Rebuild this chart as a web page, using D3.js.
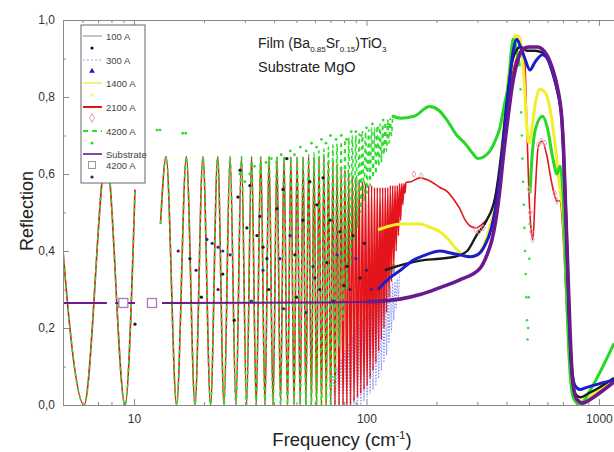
<!DOCTYPE html>
<html>
<head>
<meta charset="utf-8">
<script src="https://cdn.jsdelivr.net/npm/d3@7"></script>
<style>
  body { margin: 0; background: #fff; }
  svg { display: block; font-family: "Liberation Sans", Arial, sans-serif; }
</style>
</head>
<body>
<svg id="chart" width="614" height="452"></svg>
<script>
// ---- data (frequency in cm-1, reflection) ----
// substrate fringes seen in the 2100 A fit line (null = gap in the data)
const redFringe = [
  [4.6,0.645],[6.1,0],[7.6,0.645],[9.15,0],[10.1,0.56], null,
  [13.0,0.47],[13.75,0.645],[15.25,0],[16.8,0.645],[18.3,0],[19.8,0.645],[21.35,0],[22.9,0.645],[24.4,0],
  [25.9,0.645],[27.45,0],[29.0,0.645],[30.5,0],[32.05,0.645],[33.55,0],[35.1,0.645],[36.6,0],[38.1,0.645],
  [39.65,0],[41.2,0.645],[42.7,0],[44.2,0.645],[45.75,0],[47.3,0.645],[48.8,0],[50.3,0.645],[51.85,0],
  [53.4,0.645],[54.9,0],[56.4,0.645],[57.95,0],[59.5,0.645],[61.0,0],[62.5,0.64],[64.05,0],[65.6,0.64],
  [67.1,0],[68.6,0.635],[70.15,0],[71.7,0.63],[73.2,0],[74.7,0.625],[76.25,0],[77.8,0.62],[79.3,0],
  [80.8,0.61],[82.35,0],[83.9,0.6],[85.4,0],[86.9,0.595],[88.45,0.01],[90.0,0.59],[91.5,0.02],[93.0,0.585],
  [94.55,0.03],[96.1,0.58],[97.6,0.04],[99.1,0.575],[100.65,0.05],[102.2,0.57],[103.7,0.07],[105.2,0.57],
  [106.75,0.09],[108.3,0.565],[109.8,0.11],[111.3,0.565],[112.85,0.14],[114.4,0.565],[115.9,0.17],
  [117.4,0.565],[118.95,0.2],[120.5,0.565],[122.0,0.24],[123.5,0.565],[125.05,0.28],[126.6,0.57],
  [128.1,0.32],[129.6,0.57],[131.15,0.36],[132.7,0.57],[134.2,0.4],[135.7,0.57],[137.25,0.44],[138.8,0.575],
  [140.3,0.48],[141.8,0.575],[143.35,0.52],[144.9,0.575],[146.4,0.55],[147.9,0.578]
];
const red2100 = [
  [155,0.58],[170,0.59],[190,0.58],[207,0.565],[222,0.555],[240,0.53],[252,0.51],[266,0.48],[279,0.465],
  [295,0.46],[315,0.47],[347,0.51],[367,0.57],[387,0.68],[409,0.8],[428,0.87],[450,0.91],[471,0.92],
  [481,0.88],[490,0.72],[500,0.55],[510,0.46],[520,0.43],[532,0.55],[548,0.67],[570,0.685],[596,0.65],
  [625,0.58],[660,0.53],[680,0.53],[700,0.45],[720,0.3],[740,0.15],[765,0.05],[800,0.015],[850,0.01],
  [920,0.02],[1000,0.035],[1161,0.06]
];
const pink2100 = [
  [160,0.6],[172,0.595],[295,0.455],[305,0.45],[318,0.46],[500,0.56],[506,0.5],[512,0.45],[518,0.43],
  [548,0.675],[565,0.685],[585,0.68],[645,0.55],[660,0.53]
];
// 4200 A fit follows the red fringes below 55 cm-1, then these
const greenFringeHigh = [
  [56.4,0.65],[57.95,0],[59.5,0.655],[61.0,0],[62.5,0.66],[64.05,0],[65.6,0.665],[67.1,0],[68.6,0.67],
  [70.15,0],[71.7,0.675],[73.2,0.05],[74.7,0.68],[76.25,0.15],[77.8,0.685],[79.3,0.22],[80.8,0.69],
  [82.35,0.3],[83.9,0.695],[85.4,0.36],[86.9,0.7],[88.45,0.42],[90.0,0.7],[91.5,0.46],[93.0,0.705],
  [94.55,0.5],[96.1,0.71],[97.6,0.53],[99.1,0.71],[100.65,0.55],[102.2,0.715],[103.7,0.57],[105.2,0.72],
  [106.75,0.59],[108.3,0.72],[109.8,0.6],[111.3,0.725],[112.85,0.62],[114.4,0.73],[115.9,0.63],
  [117.4,0.73],[118.95,0.65],[120.5,0.735],[122.0,0.66],[123.5,0.74],[125.05,0.68],[126.6,0.745],
  [128.1,0.7],[129.6,0.75]
];
const green4200 = [
  [129.6,0.75],[140,0.745],[160,0.75],[187,0.775],[205,0.765],[222,0.74],[245,0.7],[265,0.68],[285,0.655],
  [302,0.64],[320,0.645],[340,0.66],[360,0.69],[375,0.72],[392,0.78],[409,0.84],[420,0.92],[428,0.95],
  [440,0.93],[455,0.88], null,
  [505,0.55],[515,0.64],[535,0.72],[572,0.75],[600,0.72],[634,0.64],[660,0.6],[680,0.62],[700,0.55],
  [720,0.35],[745,0.12],[775,0.02],[830,0.0],[900,0.03],[1000,0.08],[1161,0.16]
];
const greenDip = [
  [460,0.82],[463,0.76],[466,0.7],[469,0.64],[472,0.58],[475,0.52],[478,0.46],[481,0.4],[484,0.34],
  [487,0.28],[490,0.22],[493,0.17],[496,0.2],[499,0.28],[502,0.38],[504,0.47]
];
const greenDots = [
  [12.56,0.714],[12.94,0.714],[16.2,0.706],[16.7,0.706],[28.5,0.6],[30,0.58],[31.5,0.6],[33,0.62],[35,0.61],
  [37,0.63],[39,0.64],[41,0.63],[43,0.65],[45,0.64],[47,0.66],[49,0.65],[52,0.67],[55,0.66],[58,0.68],
  [61,0.67],[64,0.69],[67,0.68],[70,0.7],[74,0.69],[78,0.7],[82,0.69],[86,0.71],[90,0.71],[95,0.7],
  [100,0.72],[106,0.73],[112,0.72],[118,0.74],[124,0.73],[130,0.75]
];
const yellowFringe = [
  [59.5,0.14],[61.0,0],[62.5,0.16],[64.05,0],[65.6,0.18],[67.1,0],[68.6,0.2],[70.15,0],[71.7,0.23],[73.2,0],
  [74.7,0.26],[76.25,0],[77.8,0.29],[79.3,0],[80.8,0.32],[82.35,0],[83.9,0.34],[85.4,0],[86.9,0.36],
  [88.45,0.02],[90.0,0.38],[91.5,0.04],[93.0,0.4],[94.55,0.06],[96.1,0.41],[97.6,0.08],[99.1,0.42],
  [100.65,0.1],[102.2,0.43],[103.7,0.13],[105.2,0.44],[106.75,0.16],[108.3,0.445],[109.8,0.19],[111.3,0.45],
  [112.85,0.22],[114.4,0.455],[115.9,0.25],[117.4,0.46],[118.95,0.28],[120.5,0.46],[122.0,0.31],
  [123.5,0.465],[125.05,0.34],[126.6,0.465],[128.1,0.37],[129.6,0.465],[131.15,0.4],[132.7,0.47],
  [134.2,0.43],[135.7,0.47]
];
const yellow1400 = [
  [112,0.455],[126,0.465],[140,0.47],[170,0.47],[190,0.46],[207,0.45],[225,0.43],[240,0.41],[260,0.39],
  [286,0.385],[310,0.4],[335,0.45],[360,0.53],[387,0.7],[414,0.88],[435,0.96],[457,0.955],[475,0.86],
  [490,0.72],[500,0.68],[515,0.72],[535,0.79],[557,0.82],[590,0.81],[620,0.76],[650,0.67],[680,0.56],
  [700,0.5],[720,0.35],[745,0.13],[775,0.03],[830,0.01],[1000,0.04],[1161,0.07]
];
const blueFringe = [
  [70.15,0],[71.7,0.08],[73.2,0],[74.7,0.1],[76.25,0],[77.8,0.12],[79.3,0],[80.8,0.14],[82.35,0],[83.9,0.16],
  [85.4,0],[86.9,0.18],[88.45,0],[90.0,0.2],[91.5,0],[93.0,0.21],[94.55,0],[96.1,0.22],[97.6,0.01],
  [99.1,0.23],[100.65,0.02],[102.2,0.24],[103.7,0.03],[105.2,0.25],[106.75,0.04],[108.3,0.26],[109.8,0.05],
  [111.3,0.27],[112.85,0.07],[114.4,0.28],[115.9,0.09],[117.4,0.29],[118.95,0.11],[120.5,0.3],[122.0,0.13],
  [123.5,0.3],[125.05,0.16],[126.6,0.31],[128.1,0.19],[129.6,0.32],[131.15,0.22],[132.7,0.32],[134.2,0.25],
  [135.7,0.33],[137.25,0.28],[138.8,0.34]
];
const blue300 = [
  [112,0.3],[126,0.33],[140,0.35],[158,0.375],[180,0.39],[207,0.4],[230,0.395],[252,0.39],[279,0.385],
  [300,0.39],[320,0.41],[345,0.46],[367,0.55],[387,0.68],[409,0.82],[428,0.92],[443,0.95],[460,0.93],
  [480,0.9],[505,0.87],[530,0.89],[572,0.91],[600,0.9],[634,0.86],[660,0.82],[693,0.74],[710,0.6],
  [725,0.45],[745,0.22],[765,0.09],[790,0.05],[830,0.04],[880,0.045],[1000,0.055],[1161,0.065]
];
const greyFringe = [
  [99.1,0.3],[100.65,0.22],[102.2,0.31],[103.7,0.24],[105.2,0.32],[106.75,0.26],[108.3,0.33],[109.8,0.27],
  [111.3,0.34],[112.85,0.28],[114.4,0.345],[115.9,0.29],[117.4,0.35],[118.95,0.3],[120.5,0.355],[122.0,0.31],
  [123.5,0.36],[125.05,0.32],[126.6,0.36],[128.1,0.33],[129.6,0.365],[131.15,0.34],[132.7,0.365]
];
const black100 = [
  [120,0.35],[135,0.36],[170,0.375],[207,0.38],[240,0.385],[271,0.4],[297,0.44],[329,0.48],[358,0.54],
  [380,0.65],[400,0.78],[420,0.88],[440,0.92],[460,0.93],[490,0.92],[530,0.92],[572,0.915],[600,0.9],
  [634,0.86],[660,0.82],[693,0.74],[710,0.6],[725,0.45],[745,0.22],[765,0.08],[790,0.03],[830,0.02],
  [900,0.03],[1000,0.045],[1161,0.07]
];
const dots100 = [
  [10.1,0.21],[17.4,0.38],[24.1,0.34],[28.0,0.54],[28.6,0.61],[30.6,0.46],[33.8,0.44],[35.9,0.41],[37.3,0.38],
  [41.2,0.51],[43.7,0.56],[45.5,0.64],[49.2,0.39],[53.3,0.48],[57.1,0.58],[61.2,0.52],[65.0,0.59],[67.6,0.37],
  [69.7,0.48],[76.9,0.45],[82.4,0.36],[87.5,0.44],[93.8,0.33],[19.5,0.28],[27,0.22],[38,0.3],[50,0.28],
  [63,0.3],[80,0.31],[98,0.42]
];
const dots300 = [
  [20.6,0.43],[21.7,0.42],[23,0.41],[24.1,0.4],[25.9,0.39],[32,0.27],[35.9,0.35],[42.4,0.38],[44,0.25],
  [46.9,0.44],[55,0.24],[58.9,0.36],[72,0.27],[74.7,0.39],[90,0.38],[105,0.3]
];
const dotsSubstrate = [
  [31.5,0.57],[34.8,0.49],[23,0.3],[15.5,0.4],[18.5,0.35],[60,0.33],[85,0.3],[100,0.35]
];
const substrate = [
  [4.6,0.265],[7.65,0.265], null, [8.3,0.265],[10.1,0.265], null,
  [13.2,0.265],[60,0.266],[100,0.268],[139,0.275],[170,0.287],[207,0.305],[252,0.325],[308,0.355],
  [330,0.39],[347,0.43],[360,0.48],[375,0.56],[387,0.64],[405,0.74],[424,0.83],[450,0.9],[471,0.925],
  [500,0.93],[544,0.93],[596,0.91],[634,0.87],[660,0.83],[693,0.74],[705,0.66],[720,0.5],[740,0.3],
  [760,0.12],[780,0.04],[810,0.012],[850,0.005],[920,0.015],[1000,0.03],[1161,0.06]
];
const substrateSquares = [[9.0,0.265],[11.95,0.265]];

const xMajor = [10, 100, 1000];
const xMinor = [6,7,8,9,20,30,40,50,60,70,80,90,200,300,400,500,600,700,800,900];
const yMajor = [0, 0.2, 0.4, 0.6, 0.8, 1.0];
const yMinor = [0.1, 0.3, 0.5, 0.7, 0.9];

// ---- chart ----
const width = 614, height = 452;
const svg = d3.select('#chart');

const x = d3.scaleLog().domain([4.95, 1161]).range([63, 614]);
const y = d3.scaleLinear().domain([0, 1]).range([405, 20]);

svg.append('defs').append('clipPath').attr('id', 'plot-clip')
    .append('rect').attr('x', 63).attr('y', 20).attr('width', width - 63).attr('height', 385);

let plot = svg.append('g').attr('clip-path', 'url(#plot-clip)');

let line = d3.line()
    .defined(function (d) { return d !== null; })
    .x(function (d) { return x(d[0]); })
    .y(function (d) { return y(d[1]); })
    .curve(d3.curveMonotoneX);

function drawLine(data, color, w, dash) {
    plot.append('path')
        .datum(data)
        .attr('d', line)
        .attr('fill', 'none')
        .attr('stroke', color)
        .attr('stroke-width', w)
        .attr('stroke-linejoin', 'round')
        .attr('stroke-dasharray', dash || null);
}

function drawDots(data, color, r) {
    plot.append('g').selectAll('circle')
        .data(data)
        .enter()
        .append('circle')
        .attr('cx', function (d) { return x(d[0]); })
        .attr('cy', function (d) { return y(d[1]); })
        .attr('r', r)
        .style('fill', color);
}

// fringe region
drawLine(yellowFringe, '#f3f07a', 1.2, '1.5,1.5');
drawLine(blueFringe, '#8f93ee', 1.1, '1.5,1.5');
drawLine(greyFringe, '#9a9a9a', 1.1);
drawLine(redFringe.concat(red2100), '#e3141b', 1.6);
let greenFringe = redFringe.filter(function (d) { return d === null || d[0] <= 55; }).concat(greenFringeHigh);
drawLine(greenFringe, '#2ddc2d', 1.6, '4,4');
drawDots(greenDots, '#2ddc2d', 1.4);

// data curves
drawLine(yellow1400, '#f2ee2a', 3);
drawLine(green4200, '#27d827', 3);
drawDots(greenDip, '#3bd83b', 1.3);
drawLine(black100, '#1a1a1a', 2.4);
drawLine(blue300, '#1c1ccf', 3);
drawLine(substrate, '#6a1a8a', 2);
drawLine(substrate.filter(function (d) { return d !== null && d[0] >= 100; }), '#6a1a8a', 3.6);

plot.append('g').selectAll('path')
    .data(pink2100)
    .enter()
    .append('path')
    .attr('d', d3.symbol(d3.symbolDiamond).size(12))
    .attr('transform', function (d) { return 'translate(' + x(d[0]) + ',' + y(d[1]) + ')'; })
    .style('fill', 'none')
    .style('stroke', '#eba6ae')
    .style('stroke-width', 1);

drawDots(dots100, '#1a1a2a', 1.6);
drawDots(dots300, '#2a2a9a', 1.6);
drawDots(dotsSubstrate, '#4a1060', 1.6);

plot.append('g').selectAll('rect')
    .data(substrateSquares)
    .enter()
    .append('rect')
    .attr('x', function (d) { return x(d[0]) - 4.5; })
    .attr('y', function (d) { return y(d[1]) - 4.5; })
    .attr('width', 9)
    .attr('height', 9)
    .style('fill', '#fff')
    .style('stroke', '#a07cc0')
    .style('stroke-width', 1.3);

// ---- axes ----
function styleAxis(g) {
    g.attr('color', '#8a8a8a');
    g.selectAll('text').style('fill', '#333').style('font-size', '12px')
        .style('font-family', '"Liberation Sans", Arial, sans-serif');
}

svg.append('g').attr('transform', 'translate(0,405)')
    .call(d3.axisBottom(x).tickValues(xMinor).tickSize(-3).tickSizeOuter(0).tickFormat(''))
    .call(styleAxis);
svg.append('g').attr('transform', 'translate(0,405)')
    .call(d3.axisBottom(x).tickValues(xMajor).tickSize(-6).tickSizeOuter(0).tickPadding(9)
        .tickFormat(d3.format('d')))
    .call(styleAxis);
svg.append('g').attr('transform', 'translate(0,20)')
    .call(d3.axisTop(x).tickValues(xMinor).tickSize(-3).tickSizeOuter(0).tickFormat(''))
    .call(styleAxis);
svg.append('g').attr('transform', 'translate(0,20)')
    .call(d3.axisTop(x).tickValues(xMajor).tickSize(-6).tickSizeOuter(0).tickFormat(''))
    .call(styleAxis);
svg.append('g').attr('transform', 'translate(63,0)')
    .call(d3.axisLeft(y).tickValues(yMinor).tickSize(-3).tickSizeOuter(0).tickFormat(''))
    .call(styleAxis);
svg.append('g').attr('transform', 'translate(63,0)')
    .call(d3.axisLeft(y).tickValues(yMajor).tickSize(-6).tickSizeOuter(0).tickPadding(8)
        .tickFormat(function (d) { return d3.format('.1f')(d).replace('.', ','); }))
    .call(styleAxis);

// axis titles
svg.append('text')
    .attr('transform', 'translate(33,211) rotate(-90)')
    .attr('text-anchor', 'middle')
    .style('font-size', '18px')
    .style('fill', '#222')
    .text('Reflection');

let xTitle = svg.append('text')
    .attr('x', 342).attr('y', 446)
    .attr('text-anchor', 'middle')
    .style('font-size', '18.5px')
    .style('fill', '#222');
xTitle.append('tspan').text('Frequency (cm');
xTitle.append('tspan').attr('dy', -7).style('font-size', '11px').text('-1');
xTitle.append('tspan').attr('dy', 7).text(')');

// annotation
let note1 = svg.append('text').attr('x', 258).attr('y', 48)
    .style('font-size', '14px').style('fill', '#222');
note1.append('tspan').text('Film (Ba');
note1.append('tspan').attr('dy', 4).style('font-size', '8px').text('0.85');
note1.append('tspan').attr('dy', -4).text('Sr');
note1.append('tspan').attr('dy', 4).style('font-size', '8px').text('0.15');
note1.append('tspan').attr('dy', -4).text(')TiO');
note1.append('tspan').attr('dy', 4).style('font-size', '8px').text('3');
svg.append('text').attr('x', 258).attr('y', 72)
    .style('font-size', '14.5px').style('fill', '#222')
    .text('Substrate MgO');

// ---- legend ----
let legend = svg.append('g');
legend.append('rect')
    .attr('x', 81).attr('y', 25).attr('width', 64).attr('height', 158)
    .style('fill', '#fff').style('stroke', '#666').style('stroke-width', 1);

const legendLines = [
    { y: 36, label: '100 A', color: '#888', w: 1, dash: null },
    { y: 60, label: '300 A', color: '#9a9af0', w: 1.2, dash: '2,2' },
    { y: 83, label: '1400 A', color: '#f2ee50', w: 1.5, dash: null },
    { y: 107, label: '2100 A', color: '#e3141b', w: 2, dash: null },
    { y: 131, label: '4200 A', color: '#2ddc2d', w: 2, dash: '5,4' },
    { y: 154, label: 'Substrate', color: '#6a1a8a', w: 1.6, dash: null }
];
legendLines.forEach(function (d) {
    legend.append('line')
        .attr('x1', 83).attr('x2', 102).attr('y1', d.y).attr('y2', d.y)
        .style('stroke', d.color).style('stroke-width', d.w)
        .attr('stroke-dasharray', d.dash);
    legend.append('text')
        .attr('x', 106).attr('y', d.y + 3.5)
        .style('font-size', '9.5px').style('fill', '#444')
        .text(d.label);
});
legend.append('circle').attr('cx', 92).attr('cy', 48).attr('r', 1.6).style('fill', '#111');
legend.append('path').attr('d', d3.symbol(d3.symbolTriangle).size(14))
    .attr('transform', 'translate(92,71)').style('fill', '#1c1ccf');
legend.append('path').attr('d', d3.symbol(d3.symbolTriangle).size(12))
    .attr('transform', 'translate(92,95)').style('fill', '#f6f3a0');
legend.append('path').attr('d', d3.symbol(d3.symbolDiamond).size(22))
    .attr('transform', 'translate(92,118)').style('fill', 'none').style('stroke', '#e89aa4');
legend.append('circle').attr('cx', 92).attr('cy', 143).attr('r', 1.6).style('fill', '#2ddc2d');
legend.append('rect').attr('x', 88.5).attr('y', 161.5).attr('width', 7).attr('height', 7)
    .style('fill', '#fff').style('stroke', '#999');
legend.append('text').attr('x', 106).attr('y', 168.5)
    .style('font-size', '9.5px').style('fill', '#444').text('4200 A');
legend.append('circle').attr('cx', 92).attr('cy', 177).attr('r', 1.6).style('fill', '#5a1070');
</script>
</body>
</html>
